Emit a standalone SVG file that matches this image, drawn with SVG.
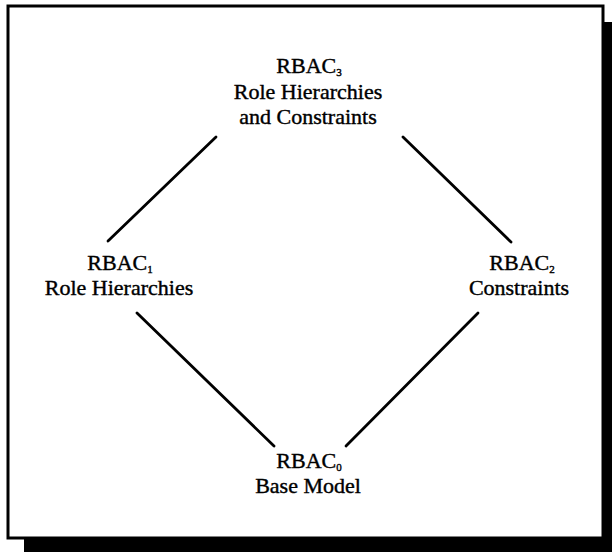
<svg xmlns="http://www.w3.org/2000/svg" width="612" height="552" viewBox="0 0 612 552">
  <style>
    .label { font-family: "Liberation Serif", "Times New Roman", serif; font-size: 22px; fill: #000; stroke: #000; stroke-width: 0.4; text-anchor: middle; }
    .sub { font-size: 11px; }
    .edge { stroke: #000; stroke-width: 2.8; stroke-linecap: round; fill: none; }
  </style>

  <!-- page background, drop shadow and frame -->
  <rect x="0" y="0" width="612" height="552" fill="#fff"/>
  <rect x="24" y="22" width="600" height="540" fill="#000"/>
  <rect x="8" y="6" width="595" height="532" fill="#fff" stroke="#000" stroke-width="3"/>

  <!-- connectors between the models -->
  <g id="connectors">
    <line class="edge" x1="216" y1="137" x2="108" y2="241"/>
    <line class="edge" x1="403" y1="137" x2="511" y2="242"/>
    <line class="edge" x1="137" y1="313" x2="274" y2="446"/>
    <line class="edge" x1="478" y1="313" x2="346" y2="446"/>
  </g>

  <g id="rbac3">
    <text class="label" x="309" y="73">RBAC<tspan class="sub" dy="3">3</tspan></text>
    <text class="label" x="308" y="99">Role Hierarchies</text>
    <text class="label" x="308" y="124">and Constraints</text>
  </g>

  <g id="rbac1">
    <text class="label" x="120" y="270">RBAC<tspan class="sub" dy="3">1</tspan></text>
    <text class="label" x="119" y="295">Role Hierarchies</text>
  </g>

  <g id="rbac2">
    <text class="label" x="522" y="270">RBAC<tspan class="sub" dy="3">2</tspan></text>
    <text class="label" x="519" y="295">Constraints</text>
  </g>

  <g id="rbac0">
    <text class="label" x="309" y="468">RBAC<tspan class="sub" dy="3">0</tspan></text>
    <text class="label" x="308" y="493">Base Model</text>
  </g>
</svg>
